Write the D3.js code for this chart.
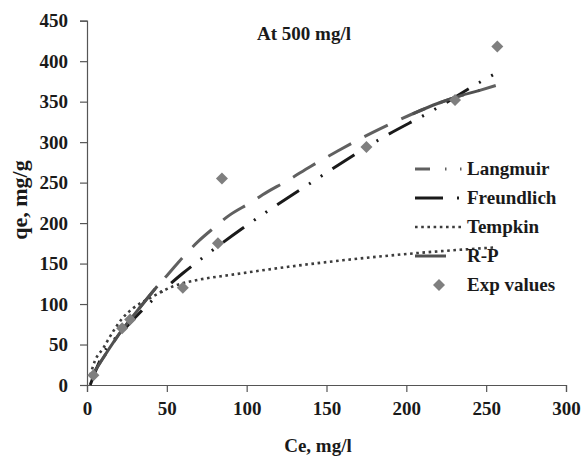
<!DOCTYPE html>
<html>
  <head>
    <meta charset="utf-8" />
    <script src="https://cdn.jsdelivr.net/npm/d3@7"></script>
    <style>
      body { margin: 0; background: #fff; }
      text { font-family: 'Liberation Serif', 'Times New Roman', serif; font-weight: bold; fill: #1a1a1a; }
    </style>
  </head>
  <body>
    <svg id="chart" width="588" height="457"></svg>
    <script>
      // tick labels
      var xTicks = [0, 50, 100, 150, 200, 250, 300];
      var yTicks = [0, 50, 100, 150, 200, 250, 300, 350, 400, 450];

      // experimental points
      var expCe = [4, 22, 27, 60, 82, 84.5, 175, 230.5, 257];
      var expQe = [12, 70, 81, 120, 175, 255, 294, 352, 418];

      // fitted curves
      var langCe = [3, 10, 22, 30, 44, 50, 61, 70, 80, 88, 103, 110, 126, 140, 157, 172, 179, 196, 210, 230, 246, 256];
      var langQe = [11, 33, 68, 88, 122, 135, 160, 178, 195, 208, 226, 235, 253, 270, 289, 305, 312, 328, 340, 355, 364, 370];

      var freuCe = [2, 10, 22, 38, 60, 73, 97, 111, 142, 182, 220, 246, 256];
      var freuQe = [0, 38, 66, 99, 138, 158, 193, 212, 252, 302, 343, 374, 385];

      var tempCe = [2, 5, 10, 16, 22, 29, 40, 54, 70, 90, 126, 160, 207, 256];
      var tempQe = [12, 30, 45, 65, 82, 95, 108, 122, 130, 136, 146, 154, 163, 170];

      // R-P only shows where it leaves the Langmuir dashes (null = hidden part)
      var rpCe = [3, 10, 22, 30, 44, 120, 204, 220, 235, 246];
      var rpQe = [11, 33, 68, 88, 122, null, 335, 348, 358, 364];

      var svg = d3.select('#chart');

      var sx = d3.scaleLinear().domain([0, 300]).range([87, 566]);
      var sy = d3.scaleLinear().domain([0, 450]).range([385, 20.7]);

      var xaxis = d3.axisBottom(sx).tickValues(xTicks).tickSize(7).tickPadding(10);
      var yaxis = d3.axisLeft(sy).tickValues(yTicks).tickSize(7).tickPadding(12);

      var gx = svg.append('g').attr('transform', 'translate(0,385)').call(xaxis);
      var gy = svg.append('g').attr('transform', 'translate(87,0)').call(yaxis);

      [gx, gy].forEach(function(g) {
        g.select('.domain').attr('stroke', '#555').attr('stroke-width', 1.2);
        g.selectAll('.tick line').attr('stroke', '#555').attr('stroke-width', 1.2);
        g.selectAll('.tick text')
          .attr('fill', '#1a1a1a')
          .style('font-family', "'Liberation Serif', serif")
          .style('font-weight', 'bold')
          .style('font-size', '19px');
      });

      // axis titles
      svg.append('text')
        .attr('x', 318).attr('y', 452)
        .attr('text-anchor', 'middle')
        .style('font-size', '19px')
        .text('Ce, mg/l');

      svg.append('text')
        .attr('transform', 'translate(27,200) rotate(-90)')
        .attr('text-anchor', 'middle')
        .style('font-size', '22px')
        .text('qe, mg/g');

      svg.append('text')
        .attr('x', 304).attr('y', 40)
        .attr('text-anchor', 'middle')
        .style('font-size', '19px')
        .text('At 500 mg/l');

      function makeLine(ce) {
        return d3.line()
          .defined(function(d) { return d != null; })
          .x(function(d, i) { return sx(ce[i]); })
          .y(function(d) { return sy(d); })
          .curve(d3.curveMonotoneX);
      }

      var series = [
        { name: 'Langmuir', ce: langCe, qe: langQe, color: '#606060', width: 3, dash: '26 15' },
        { name: 'Freundlich', ce: freuCe, qe: freuQe, color: '#1a1a1a', width: 3, dash: '26 12 2 12 2 12' },
        { name: 'Tempkin', ce: tempCe, qe: tempQe, color: '#3c3c3c', width: 2.6, dash: '2.6 3.6' },
        { name: 'R-P', ce: rpCe, qe: rpQe, color: '#505050', width: 3, dash: null }
      ];

      series.forEach(function(s) {
        svg.append('path')
          .attr('d', makeLine(s.ce)(s.qe))
          .attr('fill', 'none')
          .attr('stroke', s.color)
          .attr('stroke-width', s.width)
          .attr('stroke-dasharray', s.dash);
      });

      var diamond = d3.symbol().type(d3.symbolSquare).size(72);
      svg.selectAll('.exp')
        .data(expQe)
        .enter()
        .append('path')
        .attr('class', 'exp')
        .attr('d', diamond)
        .attr('fill', '#7f7f7f')
        .attr('transform', function(d, i) {
          return 'translate(' + sx(expCe[i]) + ',' + sy(d) + ') rotate(45)';
        });

      // legend
      var legendDash = ['15 15 1.5 13.5 1.5 10', '28 14 2 10', '2.6 3.6', null];
      var legend = svg.append('g');
      series.forEach(function(s, i) {
        var yy = 169 + i * 29;
        legend.append('line')
          .attr('x1', 415).attr('x2', s.name == 'R-P' ? 446 : 462)
          .attr('y1', yy).attr('y2', yy)
          .attr('stroke', s.color)
          .attr('stroke-width', s.width)
          .attr('stroke-dasharray', legendDash[i]);
        legend.append('text')
          .attr('x', 467).attr('y', yy + 6)
          .style('font-size', '19px')
          .text(s.name);
      });
      legend.append('path')
        .attr('d', diamond)
        .attr('fill', '#7f7f7f')
        .attr('transform', 'translate(439,285) rotate(45)');
      legend.append('text')
        .attr('x', 467).attr('y', 291)
        .style('font-size', '19px')
        .text('Exp values');
    </script>
  </body>
</html>
